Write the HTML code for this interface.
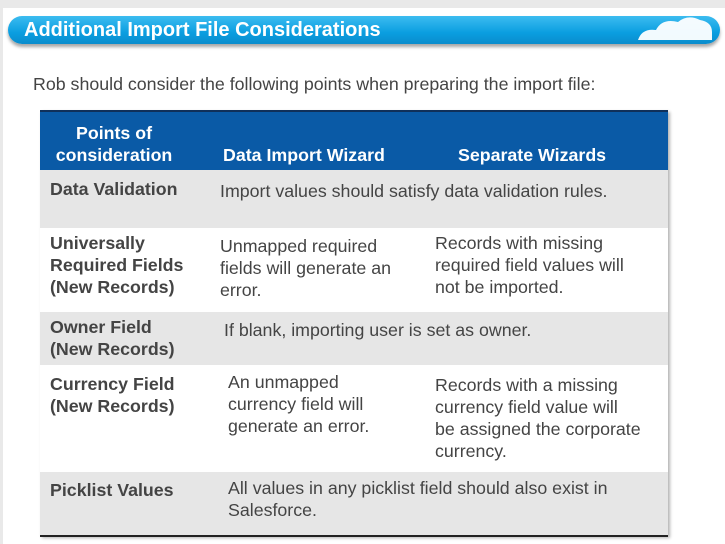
<!DOCTYPE html>
<html><head><meta charset="utf-8"><style>
body{margin:0;width:725px;height:544px;background:#e9e9e9;font-family:"Liberation Sans",Arial,sans-serif;overflow:hidden;position:relative}
.panel{position:absolute;left:3px;top:8px;width:722px;height:536px;background:#fff}
.hdr{position:absolute;left:8px;top:16px;width:712px;height:28px;border-radius:14px;background:linear-gradient(#3cbcf0,#0a9ee0 60%,#0a8ccc);box-shadow:0 3px 3px rgba(0,0,0,.35);color:#fff;font-weight:bold;font-size:20px;line-height:28px;padding-left:16px;box-sizing:border-box;white-space:nowrap}
.cloud{position:absolute;right:6px;top:-2px;width:80px;height:26px}
.intro{position:absolute;left:33px;top:74px;font-size:17.8px;color:#444;white-space:nowrap}
.tbl{position:absolute;left:40px;top:110px;width:628px;height:426px;box-shadow:2px 2px 3px rgba(0,0,0,.3)}
.row{position:absolute;left:0;width:628px}
.t{position:absolute;font-size:17.8px;line-height:22px;color:#444;white-space:nowrap}
.b{font-weight:bold}
.h{color:#fff;font-weight:bold}
</style></head><body>
<div class="panel"></div>
<div class="hdr">Additional Import File Considerations
<svg class="cloud" viewBox="0 0 80 26"><path d="M4 26 Q8 14 22 16 Q28 4 44 8 Q54 0 66 6 Q78 8 78 18 L78 26 Z" fill="#fff" opacity=".95"/></svg></div>
<div class="intro">Rob should consider the following points when preparing the import file:</div>
<div class="tbl">
<div class="row" style="top:0;height:60px;background:#0a5aa6;border-top:2px solid #10305a;box-sizing:border-box">
<div class="t h" style="left:12px;top:10px;width:124px;text-align:center">Points of<br>consideration</div>
<div class="t h" style="left:183px;top:32px">Data Import Wizard</div>
<div class="t h" style="left:418px;top:32px">Separate Wizards</div>
</div>
<div class="row" style="top:60px;height:58px;background:#e6e6e6">
<div class="t b" style="left:10px;top:8px">Data Validation</div>
<div class="t" style="left:180px;top:10px">Import values should satisfy data validation rules.</div>
</div>
<div class="row" style="top:118px;height:84px;background:#fff">
<div class="t b" style="left:10px;top:4px">Universally<br>Required Fields<br>(New Records)</div>
<div class="t" style="left:180px;top:7px">Unmapped required<br>fields will generate an<br>error.</div>
<div class="t" style="left:395px;top:4px">Records with missing<br>required field values will<br>not be imported.</div>
</div>
<div class="row" style="top:202px;height:53px;background:#e6e6e6">
<div class="t b" style="left:10px;top:4px">Owner Field<br>(New Records)</div>
<div class="t" style="left:184px;top:7px">If blank, importing user is set as owner.</div>
</div>
<div class="row" style="top:255px;height:107px;background:#fff">
<div class="t b" style="left:10px;top:8px">Currency Field<br>(New Records)</div>
<div class="t" style="left:188px;top:6px">An unmapped<br>currency field will<br>generate an error.</div>
<div class="t" style="left:395px;top:9px">Records with a missing<br>currency field value will<br>be assigned the corporate<br>currency.</div>
</div>
<div class="row" style="top:362px;height:63px;background:#e6e6e6;border-bottom:2px solid #222">
<div class="t b" style="left:10px;top:7px">Picklist Values</div>
<div class="t" style="left:188px;top:5px">All values in any picklist field should also exist in<br>Salesforce.</div>
</div>
</div>
</body></html>
